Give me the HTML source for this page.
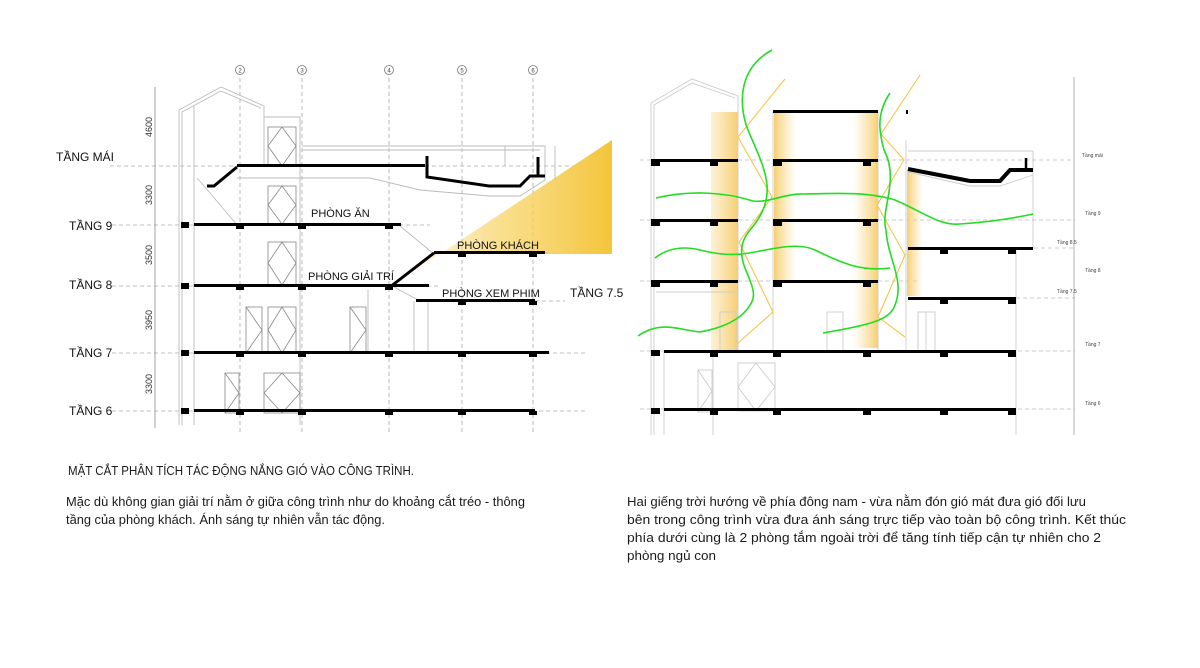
<!DOCTYPE html>
<html><head><meta charset="utf-8"><style>
html,body{margin:0;padding:0;background:#fff;}
svg{display:block;}
text{font-family:"Liberation Sans",sans-serif;}
</style></head><body>
<svg width="1200" height="668" viewBox="0 0 1200 668" xmlns="http://www.w3.org/2000/svg">
<defs>
<linearGradient id="sun" x1="390" y1="0" x2="612" y2="0" gradientUnits="userSpaceOnUse">
<stop offset="0" stop-color="#f7cf55" stop-opacity="0"/><stop offset="0.45" stop-color="#f7d468" stop-opacity="0.7"/><stop offset="1" stop-color="#f4c53a"/></linearGradient>
<linearGradient id="colL" x1="0" x2="1"><stop offset="0" stop-color="#f8dc94" stop-opacity="0.4"/><stop offset="1" stop-color="#f6cf73"/></linearGradient>
<linearGradient id="colR" x1="0" x2="1"><stop offset="0" stop-color="#f6cf73"/><stop offset="1" stop-color="#f8dc94" stop-opacity="0"/></linearGradient>
<linearGradient id="colR2" x1="0" x2="1"><stop offset="0" stop-color="#f8dc94" stop-opacity="0"/><stop offset="1" stop-color="#f6cf73"/></linearGradient>
</defs>

<!-- ===== LEFT DRAWING ===== -->
<g stroke="#aaa" stroke-width="0.8" fill="none" stroke-dasharray="4,3">
<line x1="240" y1="78" x2="240" y2="432"/><line x1="302" y1="78" x2="302" y2="432"/>
<line x1="389" y1="78" x2="389" y2="432"/><line x1="462" y1="78" x2="462" y2="432"/>
<line x1="533" y1="78" x2="533" y2="432"/>
<line x1="110" y1="166" x2="588" y2="166"/><line x1="112" y1="225" x2="430" y2="225"/>
<line x1="112" y1="286" x2="438" y2="286"/><line x1="112" y1="353" x2="588" y2="353"/>
<line x1="112" y1="411" x2="588" y2="411"/><line x1="535" y1="301" x2="565" y2="301"/>
<line x1="545" y1="253" x2="610" y2="253"/>
</g>
<g fill="#fff" stroke="#777" stroke-width="0.8" font-size="7">
<circle cx="240" cy="70" r="4.5"/><circle cx="302" cy="70" r="4.5"/><circle cx="389" cy="70" r="4.5"/><circle cx="462" cy="70" r="4.5"/><circle cx="533" cy="70" r="4.5"/>
</g>
<g font-size="6" fill="#444" text-anchor="middle"><text x="240" y="72.5">2</text><text x="302" y="72.5">3</text><text x="389" y="72.5">4</text><text x="462" y="72.5">5</text><text x="533" y="72.5">6</text></g>

<!-- sun wedge -->
<polygon points="390,287 612,140 612,254 545,254 434,254" fill="url(#sun)"/>

<!-- outlines -->
<g stroke="#bbb" stroke-width="0.9" fill="none">
<line x1="155" y1="87" x2="155" y2="428" stroke="#999"/>
<polyline points="179,425 179,110 221,87 264,106 264,166"/>
<polyline points="182,425 182,112 221,91 261,108"/>
<line x1="194" y1="106" x2="194" y2="425"/>
<polyline points="264,117 300,117 300,425"/>
<polyline points="302,146 545,146 545,180"/>
<line x1="302" y1="150" x2="540" y2="150"/>
<polyline points="237,178 370,178 420,190 489,196 520,196 545,180"/>
<polyline points="197,178 210,193 237,225"/><polyline points="400,226 434,254"/><polyline points="394,287 420,301"/>
<line x1="414" y1="301" x2="414" y2="353"/><line x1="428" y1="301" x2="428" y2="353"/>
<line x1="368" y1="290" x2="368" y2="353"/>
<line x1="505" y1="146" x2="505" y2="166"/><line x1="555" y1="146" x2="555" y2="180"/>
</g>
<g stroke="#888" stroke-width="0.8" fill="none">
<rect x="268" y="127" width="28" height="39"/><path d="M282,127 L268,146 L282,166 L296,146 Z"/>
<rect x="268" y="186" width="28" height="38"/><path d="M282,186 L268,205 L282,224 L296,205 Z"/>
<rect x="268" y="242" width="28" height="43"/><path d="M282,242 L268,263 L282,285 L296,263 Z"/>
<rect x="268" y="307" width="28" height="46"/><path d="M282,307 L268,330 L282,353 L296,330 Z"/>
<rect x="246" y="307" width="16" height="46"/><path d="M246,307 L262,330 L246,353"/>
<rect x="350" y="307" width="16" height="46"/><path d="M350,307 L366,330 L350,353"/>
<rect x="264" y="373" width="36" height="40"/><path d="M282,373 L264,393 L282,413 L300,393 Z"/>
<rect x="225" y="373" width="14" height="40"/><path d="M225,373 L239,393 L225,413"/>
</g>
<!-- slabs -->
<g fill="#000">
<rect x="181" y="222" width="8" height="6"/><rect x="181" y="283" width="8" height="6"/><rect x="181" y="350" width="8" height="6"/><rect x="181" y="408" width="8" height="6"/>
<rect x="194" y="223" width="207" height="3"/><rect x="194" y="284" width="235" height="3"/>
<rect x="194" y="351" width="355" height="3"/><rect x="194" y="409" width="341" height="3"/>
<rect x="434" y="251" width="111" height="3"/><rect x="416" y="299" width="119" height="3"/>
<rect x="237" y="164" width="188" height="3"/>
</g>
<g fill="#000">
<rect x="236" y="225" width="8" height="4"/><rect x="298" y="225" width="8" height="4"/><rect x="385" y="225" width="8" height="4"/>
<rect x="236" y="286" width="8" height="4"/><rect x="298" y="286" width="8" height="4"/><rect x="385" y="286" width="8" height="4"/>
<rect x="236" y="353" width="8" height="4"/><rect x="298" y="353" width="8" height="4"/><rect x="385" y="353" width="8" height="4"/><rect x="458" y="353" width="8" height="4"/><rect x="529" y="353" width="8" height="4"/>
<rect x="236" y="411" width="8" height="4"/><rect x="298" y="411" width="8" height="4"/><rect x="385" y="411" width="8" height="4"/><rect x="458" y="411" width="8" height="4"/><rect x="529" y="411" width="8" height="4"/>
<rect x="458" y="253" width="8" height="4"/><rect x="529" y="253" width="8" height="4"/>
<rect x="458" y="301" width="8" height="4"/><rect x="529" y="301" width="8" height="4"/>
</g>
<g stroke="#000" fill="none" stroke-width="3">
<polyline points="207,186 214,186 237,167"/>
<polyline points="390,287 434,253"/>
<polyline points="427,156 427,177 489,186 520,186 530,176 545,176"/>
<line x1="538" y1="157" x2="538" y2="175"/>
</g>
<g font-size="12" fill="#111">
<text x="56" y="161">TẦNG MÁI</text><text x="69" y="230">TẦNG 9</text><text x="69" y="289">TẦNG 8</text>
<text x="69" y="357">TẦNG 7</text><text x="69" y="415">TẦNG 6</text><text x="570" y="297">TẦNG 7.5</text>
<text x="311" y="217" font-size="11">PHÒNG ĂN</text><text x="457" y="249" font-size="11">PHÒNG KHÁCH</text>
<text x="308" y="280" font-size="11">PHÒNG GIẢI TRÍ</text><text x="442" y="297" font-size="11">PHÒNG XEM PHIM</text>
</g>
<g font-size="9" fill="#333" text-anchor="middle">
<text transform="translate(152,127) rotate(-90)">4600</text><text transform="translate(152,195) rotate(-90)">3300</text>
<text transform="translate(152,255) rotate(-90)">3500</text><text transform="translate(152,320) rotate(-90)">3950</text>
<text transform="translate(152,384) rotate(-90)">3300</text>
</g>

<!-- ===== RIGHT DRAWING ===== -->
<g stroke="#bbb" stroke-width="0.8" fill="none" stroke-dasharray="4,3">
<line x1="640" y1="160" x2="1075" y2="160"/><line x1="640" y1="220" x2="1075" y2="220"/>
<line x1="908" y1="248" x2="1075" y2="248"/><line x1="640" y1="281" x2="920" y2="281"/>
<line x1="1016" y1="298" x2="1075" y2="298"/><line x1="640" y1="351" x2="1075" y2="351"/>
<line x1="640" y1="409" x2="1075" y2="409"/>
</g>
<rect x="711" y="112" width="27" height="238" fill="url(#colL)"/>
<rect x="774" y="113" width="22" height="169" fill="url(#colR)"/>
<rect x="853" y="113" width="25" height="235" fill="url(#colR2)"/>
<rect x="907" y="170" width="16" height="126" fill="url(#colR)"/>
<g stroke="#ccc" stroke-width="0.9" fill="none">
<polyline points="651,435 651,103 692,79 738,96 738,350"/>
<polyline points="654,435 654,105 692,83 735,98"/>
<line x1="773" y1="112" x2="773" y2="352"/><line x1="878" y1="112" x2="878" y2="352"/>
<line x1="906" y1="140" x2="906" y2="352"/><line x1="908" y1="151" x2="1033" y2="151"/><line x1="1033" y1="151" x2="1033" y2="248"/>
<line x1="1016" y1="248" x2="1016" y2="435"/><line x1="1074" y1="77" x2="1074" y2="435" stroke="#aaa"/>
<line x1="656" y1="292" x2="738" y2="292"/>
<rect x="720" y="312" width="16" height="40"/><rect x="827" y="312" width="16" height="40"/><rect x="918" y="312" width="17" height="40"/><rect x="918" y="312" width="8" height="40"/>
<polyline points="908,172 970,186 1000,186 1033,175"/>
<line x1="664" y1="352" x2="664" y2="435"/><line x1="713" y1="352" x2="713" y2="435"/>
<rect x="698" y="370" width="14" height="42"/><path d="M698,370 L712,391 L698,412"/>
<rect x="738" y="363" width="37" height="48"/><path d="M756,363 L738,387 L756,411 L775,387 Z"/>
</g>
<g fill="#000">
<rect x="651" y="159" width="87" height="3"/><rect x="651" y="219" width="87" height="3"/><rect x="651" y="280" width="87" height="3"/>
<rect x="773" y="110" width="105" height="3"/><rect x="773" y="159" width="105" height="3"/><rect x="773" y="219" width="105" height="3"/><rect x="773" y="280" width="105" height="3"/>
<rect x="906" y="110" width="2" height="4"/>
<rect x="908" y="247" width="125" height="3"/><rect x="908" y="297" width="108" height="3"/>
<rect x="651" y="350" width="9" height="6"/><rect x="664" y="350" width="352" height="3"/>
<rect x="651" y="408" width="9" height="6"/><rect x="664" y="408" width="352" height="3"/>
<rect x="651" y="162" width="9" height="4"/><rect x="710" y="162" width="8" height="4"/><rect x="651" y="222" width="9" height="4"/><rect x="710" y="222" width="8" height="4"/><rect x="651" y="283" width="9" height="4"/><rect x="710" y="283" width="8" height="4"/>
<rect x="773" y="162" width="9" height="4"/><rect x="863" y="162" width="8" height="4"/><rect x="773" y="222" width="9" height="4"/><rect x="863" y="222" width="8" height="4"/><rect x="773" y="283" width="9" height="4"/><rect x="863" y="283" width="8" height="4"/>
<rect x="940" y="250" width="8" height="4"/><rect x="1008" y="250" width="8" height="4"/><rect x="940" y="300" width="8" height="4"/><rect x="1008" y="300" width="8" height="4"/>
<rect x="710" y="353" width="8" height="4"/><rect x="773" y="353" width="8" height="4"/><rect x="863" y="353" width="8" height="4"/><rect x="940" y="353" width="8" height="4"/><rect x="1008" y="353" width="8" height="4"/>
<rect x="710" y="411" width="8" height="4"/><rect x="773" y="411" width="8" height="4"/><rect x="863" y="411" width="8" height="4"/><rect x="940" y="411" width="8" height="4"/><rect x="1008" y="411" width="8" height="4"/>
</g>
<g stroke="#000" stroke-width="4" fill="none">
<polyline points="908,169 970,181 1000,181 1010,170 1033,170"/>
<line x1="1026" y1="158" x2="1026" y2="168" stroke-width="2.5"/>
</g>
<g stroke="#f7c54a" stroke-width="1.1" fill="none">
<polyline points="785,79 738,137 772,197 739,242 773,312 737,344"/>
<polyline points="920,75 881,134 904,160 877,205 905,255 878,317 905,337"/>
</g>
<g stroke="#22dd22" stroke-width="1.6" fill="none">
<path d="M772,50 C735,70 740,110 748,130 C765,170 780,195 750,230 C725,260 765,285 750,305 C738,325 710,330 700,332 C680,330 660,320 638,336"/>
<path d="M890,93 C875,115 880,135 884,150 C900,180 880,210 886,230 C888,260 905,280 895,305 C890,320 870,325 823,333"/>
<path d="M656,198 C690,190 725,192 753,201 C770,203 785,193 805,194 C840,193 870,192 895,200 C925,213 940,226 960,224 C990,222 1010,219 1033,214"/>
<path d="M655,258 C665,250 680,245 700,250 C720,255 735,256 755,252 C780,247 800,243 815,250 C840,262 860,272 890,268"/>
</g>
<g font-size="5" fill="#444">
<text x="1082" y="157">Tầng mái</text><text x="1085" y="215">Tầng 9</text><text x="1057" y="244">Tầng 8.5</text>
<text x="1085" y="272">Tầng 8</text><text x="1057" y="293">Tầng 7.5</text><text x="1085" y="346">Tầng 7</text><text x="1085" y="405">Tầng 6</text>
</g>

<!-- ===== TEXT ===== -->
<g font-size="13" fill="#1a1a1a">
<text x="68" y="475" textLength="346" lengthAdjust="spacingAndGlyphs">MẶT CẮT PHÂN TÍCH TÁC ĐỘNG NẮNG GIÓ VÀO CÔNG TRÌNH.</text>
<text x="66" y="506" textLength="459" lengthAdjust="spacingAndGlyphs">Mặc dù không gian giải trí nằm ở giữa công trình như do khoảng cắt tréo - thông</text>
<text x="66" y="524" textLength="319" lengthAdjust="spacingAndGlyphs">tầng của phòng khách. Ánh sáng tự nhiên vẫn tác động.</text>
<text x="627" y="506" textLength="459" lengthAdjust="spacingAndGlyphs">Hai giếng trời hướng về phía đông nam - vừa nằm đón gió mát đưa gió đối lưu</text>
<text x="627" y="524" textLength="499" lengthAdjust="spacingAndGlyphs">bên trong công trình vừa đưa ánh sáng trực tiếp vào toàn bộ công trình. Kết thúc</text>
<text x="627" y="542" textLength="474" lengthAdjust="spacingAndGlyphs">phía dưới cùng là 2 phòng tắm ngoài trời để tăng tính tiếp cận tự nhiên cho 2</text>
<text x="627" y="560" textLength="89" lengthAdjust="spacingAndGlyphs">phòng ngủ con</text>
</g>
</svg>
</body></html>
